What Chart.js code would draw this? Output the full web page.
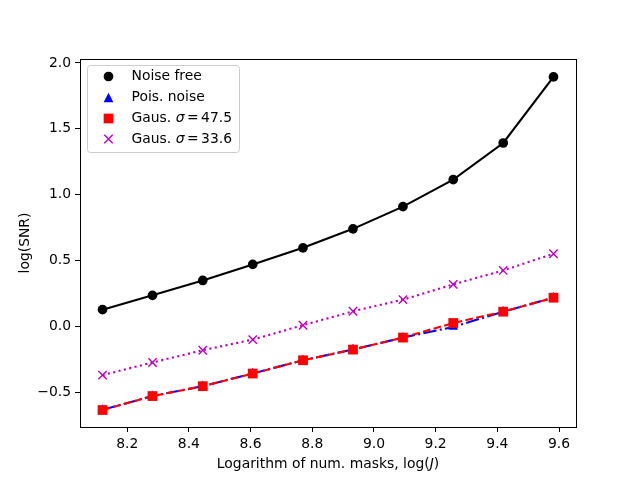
<!DOCTYPE html>
<html>
<head>
<meta charset="utf-8">
<script src="https://cdn.jsdelivr.net/npm/chart.js@4"></script>
<style>
  body { margin: 0; background: white; }
  #wrap { width: 640px; height: 480px; }
</style>
</head>
<body>
<div id="wrap"><canvas id="myChart"></canvas></div>
<script>
// log(J) on the x axis
const logJ = [8.120, 8.282, 8.445, 8.607, 8.770, 8.932, 9.094, 9.257, 9.419, 9.582];

const noiseFree = [0.126, 0.235, 0.348, 0.470, 0.596, 0.740, 0.909, 1.114, 1.392, 1.894];
const poisNoise = [-0.634, -0.530, -0.455, -0.358, -0.258, -0.176, -0.086, -0.005, 0.111, 0.217];
const gaus475 = [-0.636, -0.530, -0.455, -0.359, -0.258, -0.177, -0.086, 0.025, 0.111, 0.217];
const gaus336 = [-0.371, -0.275, -0.182, -0.101, 0.008, 0.114, 0.202, 0.318, 0.424, 0.551];

const xTicks = [8.2, 8.4, 8.6, 8.8, 9.0, 9.2, 9.4, 9.6];
const yTicks = [-0.5, 0.0, 0.5, 1.0, 1.5, 2.0];

const FONT = 'DejaVu Sans';
const FS = 13.9;

function pts(ys) {
    return ys.map((y, i) => ({ x: logJ[i], y: y }));
}

function fmt(v) {
    return v.toFixed(1).replace('-', '\u2212');
}

// frame, legend and axis labels (mixed italic text)
const extras = {
    id: 'extras',
    afterDraw(chart) {
        const ctx = chart.ctx;
        const a = chart.chartArea;
        ctx.save();
        ctx.strokeStyle = 'black';
        ctx.lineWidth = 1;
        ctx.strokeRect(Math.round(a.left) + 0.5, Math.round(a.top) + 0.5,
            Math.round(a.right - a.left), Math.round(a.bottom - a.top));

        // legend box
        const bx = 87.5, by = 65.5, bw = 152, bh = 87;
        ctx.beginPath();
        ctx.roundRect(bx, by, bw, bh, 3);
        ctx.fillStyle = 'rgba(255,255,255,0.8)';
        ctx.fill();
        ctx.strokeStyle = '#cccccc';
        ctx.stroke();

        const rows = [76.5, 97.5, 118.5, 139];
        const mx = 108.5, tx = 131.5;
        ctx.fillStyle = 'black';
        ctx.beginPath();
        ctx.arc(mx, rows[0], 4.85, 0, Math.PI * 2);
        ctx.fill();
        ctx.fillStyle = '#0000ff';
        ctx.beginPath();
        ctx.moveTo(mx, rows[1] - 4.85);
        ctx.lineTo(mx + 4.85, rows[1] + 4.85);
        ctx.lineTo(mx - 4.85, rows[1] + 4.85);
        ctx.closePath();
        ctx.fill();
        ctx.fillStyle = '#ff0000';
        ctx.fillRect(mx - 4.85, rows[2] - 4.85, 9.7, 9.7);
        ctx.strokeStyle = '#bf00bf';
        ctx.lineWidth = 1.4;
        ctx.beginPath();
        ctx.moveTo(mx - 4.2, rows[3] - 4.2);
        ctx.lineTo(mx + 4.2, rows[3] + 4.2);
        ctx.moveTo(mx + 4.2, rows[3] - 4.2);
        ctx.lineTo(mx - 4.2, rows[3] + 4.2);
        ctx.stroke();

        ctx.fillStyle = 'black';
        ctx.textBaseline = 'middle';
        ctx.textAlign = 'left';
        ctx.font = FS + 'px "' + FONT + '"';
        ctx.fillText('Noise free', tx, rows[0]);
        ctx.fillText('Pois. noise', tx, rows[1]);
        const sig = [['47.5', rows[2]], ['33.6', rows[3]]];
        sig.forEach(([v, y]) => {
            let x = tx;
            ctx.font = FS + 'px "' + FONT + '"';
            ctx.fillText('Gaus. ', x, y);
            x += ctx.measureText('Gaus. ').width;
            ctx.font = 'italic ' + FS + 'px "' + FONT + '"';
            ctx.fillText('\u03c3', x, y);
            x += ctx.measureText('\u03c3').width + 2.5;
            ctx.font = FS + 'px "' + FONT + '"';
            ctx.fillText('=', x, y);
            x += ctx.measureText('=').width + 2.5;
            ctx.fillText(v, x, y);
        });

        // x label
        const p1 = 'Logarithm of num. masks, log(', p2 = 'J', p3 = ')';
        ctx.font = FS + 'px "' + FONT + '"';
        const w1 = ctx.measureText(p1).width, w3 = ctx.measureText(p3).width;
        ctx.font = 'italic ' + FS + 'px "' + FONT + '"';
        const w2 = ctx.measureText(p2).width;
        let x0 = (a.left + a.right) / 2 - (w1 + w2 + w3) / 2;
        const ly = 464;
        ctx.font = FS + 'px "' + FONT + '"';
        ctx.fillText(p1, x0, ly);
        ctx.font = 'italic ' + FS + 'px "' + FONT + '"';
        ctx.fillText(p2, x0 + w1, ly);
        ctx.font = FS + 'px "' + FONT + '"';
        ctx.fillText(p3, x0 + w1 + w2, ly);

        // y label
        ctx.translate(25, (a.top + a.bottom) / 2);
        ctx.rotate(-Math.PI / 2);
        ctx.textAlign = 'center';
        ctx.fillText('log(SNR)', 0, 0);
        ctx.restore();
    }
};

const ctx = document.getElementById('myChart');
const myChart = new Chart(ctx, {
    type: 'line',
    data: {
        datasets: [{
            label: 'Noise free',
            data: pts(noiseFree),
            borderColor: 'black',
            backgroundColor: 'black',
            borderWidth: 2.1,
            pointStyle: 'circle',
            pointRadius: 4.85,
            pointBorderWidth: 0,
            order: 4
        }, {
            label: 'Pois. noise',
            data: pts(poisNoise),
            borderColor: '#0000ff',
            backgroundColor: '#0000ff',
            borderWidth: 2.1,
            borderDash: [13.3, 3.3, 2.1, 3.3],
            pointStyle: 'triangle',
            pointRadius: 5.6,
            pointBorderWidth: 0,
            order: 3
        }, {
            label: 'Gaus. \u03c3=47.5',
            data: pts(gaus475),
            borderColor: '#ff0000',
            backgroundColor: '#ff0000',
            borderWidth: 2.1,
            borderDash: [7.7, 3.3],
            pointStyle: 'rect',
            pointRadius: 6.9,
            pointBorderWidth: 0,
            order: 2
        }, {
            label: 'Gaus. \u03c3=33.6',
            data: pts(gaus336),
            borderColor: '#bf00bf',
            backgroundColor: '#bf00bf',
            borderWidth: 2.1,
            borderDash: [2.1, 3.4],
            pointStyle: 'crossRot',
            pointRadius: 5.9,
            pointBorderWidth: 1.4,
            order: 1
        }]
    },
    options: {
        responsive: true,
        maintainAspectRatio: false,
        animation: false,
        devicePixelRatio: 1,
        layout: { padding: { left: 0, right: 64, top: 59, bottom: 0 } },
        plugins: {
            legend: { display: false },
            tooltip: { enabled: false }
        },
        elements: { line: { tension: 0, fill: false } },
        scales: {
            x: {
                type: 'linear',
                min: 8.047,
                max: 9.655,
                afterFit: (s) => { s.height = 53; },
                afterBuildTicks: (s) => { s.ticks = xTicks.map(v => ({ value: v })); },
                grid: { drawOnChartArea: false, drawTicks: true, tickLength: 5, color: 'black', tickWidth: 1 },
                border: { display: true, color: 'black', width: 1 },
                ticks: {
                    color: 'black',
                    padding: 4,
                    maxRotation: 0,
                    font: { family: FONT, size: FS },
                    callback: (v) => fmt(v)
                }
            },
            y: {
                type: 'linear',
                min: -0.765,
                max: 2.03,
                afterFit: (s) => { s.width = 80; },
                afterBuildTicks: (s) => { s.ticks = yTicks.map(v => ({ value: v })); },
                grid: { drawOnChartArea: false, drawTicks: true, tickLength: 5, color: 'black', tickWidth: 1 },
                border: { display: true, color: 'black', width: 1 },
                ticks: {
                    color: 'black',
                    padding: 4,
                    font: { family: FONT, size: FS },
                    callback: (v) => fmt(v)
                }
            }
        }
    },
    plugins: [extras]
});
</script>
</body>
</html>
